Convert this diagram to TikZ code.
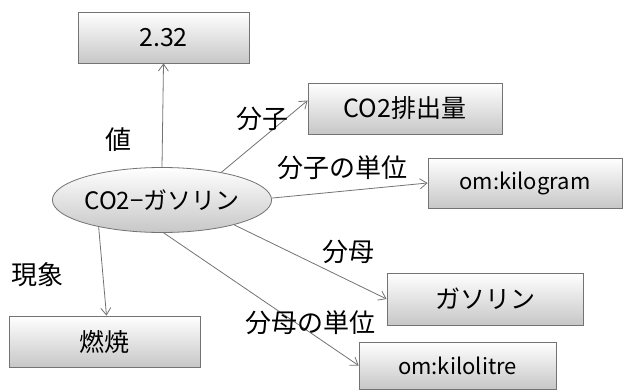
\documentclass[tikz,border=0pt]{standalone}
\usepackage{fontspec}
\setmainfont{Noto Sans CJK JP}
\usetikzlibrary{shapes.geometric,arrows.meta}
\begin{document}
\begin{tikzpicture}[x=1pt,y=-1pt,
  box/.style={draw=black!55,line width=0.8pt,top color=white,bottom color=black!22,
    minimum height=51pt,inner sep=0pt,font=\fontsize{25}{28}\selectfont},
  ubox/.style={box,font=\fontsize{22}{26}\selectfont},
  oval/.style={ellipse,draw=black!55,line width=0.8pt,top color=white,bottom color=black!22,
    minimum width=167pt,minimum height=65pt,inner sep=0pt,font=\fontsize{24}{28}\selectfont},
  conn/.style={draw=black!55,line width=0.8pt,-{Straight Barb[length=7pt,width=10pt]}},
  lbl/.style={font=\fontsize{26}{28}\selectfont,inner sep=0pt}]
\useasboundingbox (0,0) rectangle (624,390);
\node[box,minimum width=171pt] (v) at (163.5,37.5) {2.32};
\node[box,minimum width=194pt] (co2) at (405,108.5) {CO2排出量};
\node[ubox,minimum width=194pt,minimum height=50pt] (kg) at (525,183) {om:kilogram};
\node[box,minimum width=196pt,minimum height=52pt] (gas) at (485,299) {ガソリン};
\node[ubox,minimum width=197pt,minimum height=47pt] (kl) at (457.5,365.5) {om:kilolitre};
\node[box,minimum width=191pt] (burn) at (104.5,341.5) {燃焼};
\node[oval] (e) at (162,200) {CO2−ガソリン};
\draw[conn] (e.north) -- (v.south);
\draw[conn] (e.25) -- ([yshift=8pt]co2.west);
\draw[conn] (e.1) -- (kg.west);
\draw[conn] (e.-19) -- (gas.west);
\draw[conn] (e.-87) -- (kl.west);
\draw[conn] (e.-157) -- ([xshift=2pt]burn.north);
\node[lbl] (l1) at (118,140) {値};
\node[lbl] (l2) at (262,119) {分子};
\node[lbl] (l3) at (342,168) {分子の単位};
\node[lbl] (l4) at (348,252) {分母};
\node[lbl] (l5) at (310,323) {分母の単位};
\node[lbl] (l6) at (38,275) {現象};
\end{tikzpicture}
\end{document}
